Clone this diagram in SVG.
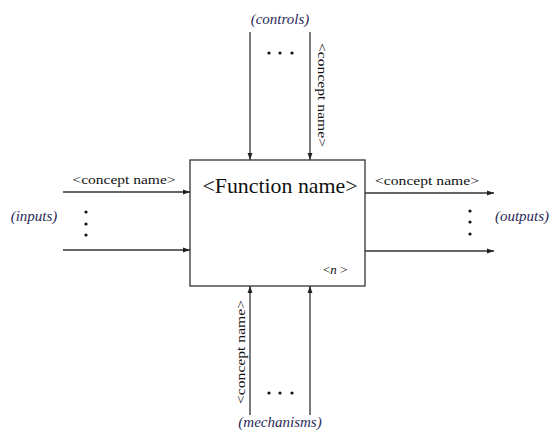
<svg xmlns="http://www.w3.org/2000/svg" width="553" height="435" viewBox="0 0 553 435">
<style>
.ln{stroke:#333;stroke-width:1.3;fill:none}
.lbl{font-family:"Liberation Serif","Times New Roman",serif;font-size:13px;fill:#111}
.fn{font-family:"Liberation Serif","Times New Roman",serif;font-size:21.5px;fill:#111}
.cat{font-family:"Liberation Serif","Times New Roman",serif;font-style:italic;font-size:15px;fill:#2a2a58}
.dot{fill:#111}
</style>
<defs>
<marker id="ah" viewBox="0 0 10 10" refX="10" refY="5" markerWidth="7" markerHeight="7" markerUnits="userSpaceOnUse" orient="auto">
<path d="M0,1.5 L10,5 L0,8.5 Z" fill="#222"/>
</marker>
</defs>
<rect width="553" height="435" fill="#fff"/>
<g id="function">
<rect x="190" y="160" width="175" height="126" fill="#fff" stroke="#333" stroke-width="1.3"/>
<text class="fn" x="280" y="193" text-anchor="middle" textLength="155" lengthAdjust="spacingAndGlyphs">&lt;Function name&gt;</text>
<text class="lbl" x="323" y="274" font-size="13" fill="#2a2a58">&lt;<tspan font-style="italic">n</tspan> &gt;</text>
</g>
<g id="connectors">
<line class="ln" x1="250" y1="32" x2="250" y2="160" marker-end="url(#ah)"/>
<line class="ln" x1="310" y1="32" x2="310" y2="160" marker-end="url(#ah)"/>
<line class="ln" x1="63" y1="192" x2="190" y2="192" marker-end="url(#ah)"/>
<line class="ln" x1="63" y1="250" x2="190" y2="250" marker-end="url(#ah)"/>
<line class="ln" x1="365" y1="193" x2="494" y2="193" marker-end="url(#ah)"/>
<line class="ln" x1="365" y1="251" x2="494" y2="251" marker-end="url(#ah)"/>
<line class="ln" x1="250" y1="415" x2="250" y2="286" marker-end="url(#ah)"/>
<line class="ln" x1="310" y1="415" x2="310" y2="286" marker-end="url(#ah)"/>
</g>
<g id="controls">
<text class="cat" x="280" y="24" text-anchor="middle">(controls)</text>
<circle class="dot" cx="269" cy="53" r="1.6"/><circle class="dot" cx="280" cy="53" r="1.6"/><circle class="dot" cx="292" cy="53" r="1.6"/>
<text class="lbl" transform="translate(318,95) rotate(90)" text-anchor="middle" textLength="104" lengthAdjust="spacingAndGlyphs">&lt;concept name&gt;</text>
</g>
<g id="inputs">
<text class="cat" x="34" y="221" text-anchor="middle">(inputs)</text>
<text class="lbl" x="124" y="184" text-anchor="middle" textLength="103" lengthAdjust="spacingAndGlyphs">&lt;concept name&gt;</text>
<circle class="dot" cx="86" cy="212" r="1.6"/><circle class="dot" cx="86" cy="224" r="1.6"/><circle class="dot" cx="86" cy="235" r="1.6"/>
</g>
<g id="outputs">
<text class="cat" x="522" y="221" text-anchor="middle">(outputs)</text>
<text class="lbl" x="427" y="185" text-anchor="middle" textLength="104" lengthAdjust="spacingAndGlyphs">&lt;concept name&gt;</text>
<circle class="dot" cx="470" cy="211" r="1.6"/><circle class="dot" cx="470" cy="222" r="1.6"/><circle class="dot" cx="470" cy="234" r="1.6"/>
</g>
<g id="mechanisms">
<text class="cat" x="280" y="427" text-anchor="middle">(mechanisms)</text>
<circle class="dot" cx="269" cy="393" r="1.6"/><circle class="dot" cx="280" cy="393" r="1.6"/><circle class="dot" cx="292" cy="393" r="1.6"/>
<text class="lbl" transform="translate(245,352) rotate(-90)" text-anchor="middle" textLength="104" lengthAdjust="spacingAndGlyphs">&lt;concept name&gt;</text>
</g>
</svg>
